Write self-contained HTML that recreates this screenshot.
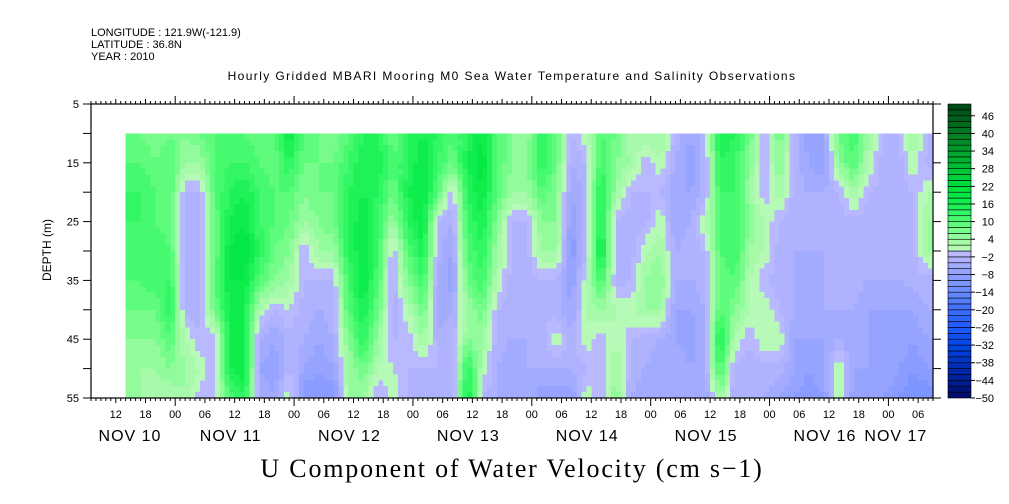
<!DOCTYPE html>
<html><head><meta charset="utf-8">
<style>
html,body{margin:0;padding:0;background:#fff;}
svg{display:block;font-family:"Liberation Sans",sans-serif;}
</style></head>
<body>
<svg id="chart" width="1009" height="504" viewBox="0 0 1009 504" xmlns="http://www.w3.org/2000/svg">
<rect x="0" y="0" width="1009" height="504" fill="#fff"/>
<g font-size="11" fill="#000">
<text x="91" y="36">LONGITUDE : 121.9W(-121.9)</text>
<text x="91" y="48">LATITUDE : 36.8N</text>
<text x="91" y="60">YEAR : 2010</text>
</g>
<text x="512" y="80" text-anchor="middle" font-size="12" letter-spacing="1.4">Hourly Gridded MBARI Mooring M0 Sea Water Temperature and Salinity Observations</text>
<g id="heat" shape-rendering="crispEdges"></g>
<g id="axes"></g>
<g id="cbar"></g>
<text transform="translate(51,250) rotate(-90)" text-anchor="middle" font-size="12">DEPTH (m)</text>
<text x="512" y="477" text-anchor="middle" font-size="26" letter-spacing="1.8" font-family="'Liberation Serif',serif">U Component of Water Velocity (cm s−1)</text>
</svg>
<script>
// hours relative to Nov 11 00:00
const times = [];
for (let t=-10;t<=152;t+=3) times.push(t);
const depths = [10,15,20,25,30,35,40,45,50,55];
const values = [
[10,10,12,12,10,10,8,6,6,4],
[8,10,12,12,10,10,8,6,4,4],
[6,8,10,10,12,12,8,6,4,2],
[8,10,10,8,10,12,14,10,6,2],
[6,4,-2,-3,-3,-3,-3,2,4,4],
[8,4,-2,-3,-4,-4,-3,-2,2,-2],
[10,10,10,8,8,10,8,-2,-2,-2],
[12,12,14,16,18,18,16,16,16,10],
[10,12,16,18,20,18,16,16,18,14],
[8,10,12,12,14,10,2,-4,-6,-4],
[10,8,10,10,8,6,-2,-6,-8,-6],
[18,14,10,8,6,4,0,-3,-2,2],
[10,8,6,4,-2,-2,-3,-4,-6,-10],
[8,8,8,6,4,-2,-4,-6,-8,-10],
[6,8,8,8,4,-2,-3,-4,-6,-10],
[10,12,14,14,14,12,10,6,4,4],
[14,16,16,18,18,18,16,14,8,4],
[14,16,14,12,12,10,8,4,2,-3],
[8,10,8,4,-2,-3,-4,-2,0,2],
[14,14,16,14,10,6,2,-2,-2,-2],
[16,18,18,18,16,12,8,4,-2,-4],
[14,12,10,-2,-3,-4,-6,-3,-2,-4],
[10,8,-2,-4,-6,-8,-4,-3,-4,-4],
[14,16,14,12,10,8,4,6,14,18],
[18,20,18,16,14,12,8,4,2,-2],
[10,10,10,6,4,2,-2,-3,-4,-4],
[6,6,4,-2,-2,-3,-4,-4,-6,-6],
[4,6,4,-2,-3,-3,-4,-4,-4,-4],
[14,14,10,6,4,-2,-3,-4,-4,-8],
[8,8,6,6,4,-2,-3,2,-4,-8],
[-2,-4,-6,-8,-10,-8,-6,-4,-4,-8],
[2,-2,-3,-3,-2,2,2,2,-2,2],
[10,12,16,16,18,12,4,-2,-2,-2],
[8,6,4,-2,-2,-3,2,2,4,6],
[2,4,-2,-3,-3,-2,2,-2,-3,-4],
[4,-2,-2,-3,2,4,4,-3,-4,-6],
[4,2,-2,2,4,6,4,-4,-6,-6],
[-2,-4,-6,-6,-4,-4,-6,-6,-4,-6],
[-6,-8,-6,-4,-3,-4,-6,-8,-6,-6],
[-2,-3,-3,2,-2,-3,-4,-4,-4,-6],
[16,14,12,10,10,8,10,16,12,4],
[14,12,12,12,12,10,6,2,-3,-4],
[8,6,4,6,4,2,2,-2,-3,-4],
[-2,-2,-2,2,2,-2,2,2,-3,-4],
[8,6,4,-2,-3,-3,-2,2,-3,-6],
[-2,-3,-3,-3,-4,-4,-4,-6,-6,-8],
[-8,-6,-4,-4,-4,-6,-6,-6,-8,-10],
[-6,-8,-4,-3,-4,-4,-4,-6,-6,-8],
[8,6,-2,-3,-4,-4,-4,-4,2,2],
[12,10,4,-3,-3,-3,-4,-6,-6,-8],
[4,2,-2,-3,-3,-4,-6,-6,-6,-8],
[-2,-3,-3,-3,-3,-4,-6,-8,-6,-8],
[-2,-3,-4,-3,-3,-4,-6,-6,-8,-10],
[4,2,-2,-3,-3,-3,-6,-8,-10,-12],
[-2,-3,2,4,4,-3,-4,-6,-8,-12]
];
const cbarLabels = [46,40,34,28,22,16,10,4,-2,-8,-14,-20,-26,-32,-38,-44,-50];
const hourLabels = ["12","18","00","06","12","18","00","06","12","18","00","06","12","18","00","06","12","18","00","06","12","18","00","06","12","18","00","06","12","18","00","06"];
const dayLabels = ["NOV 10","NOV 11","NOV 12","NOV 13","NOV 14","NOV 15","NOV 16","NOV 17"];
const depthTicks = [5,15,25,35,45,55];

const NS="http://www.w3.org/2000/svg";
const X0=91,X1=933,Y0=104,Y1=398,T0=-17,T1=153,D0=5,D1=55;
const xs = t => X0+(t-T0)/(T1-T0)*(X1-X0);
const ys = d => Y0+(d-D0)/(D1-D0)*(Y1-Y0);
function el(tag,attrs,parent){const e=document.createElementNS(NS,tag);for(const k in attrs)e.setAttribute(k,attrs[k]);parent.appendChild(e);return e;}

const stops=[[-50,[0,10,100]],[-44,[0,30,150]],[-38,[0,50,190]],[-32,[0,70,230]],[-26,[30,90,255]],[-20,[60,110,255]],[-14,[105,138,255]],[-8,[145,160,255]],[-2,[180,182,255]],[0,[188,188,255]],
[0.01,[190,250,190]],[4,[160,250,165]],[8,[105,252,130]],[12,[60,248,105]],[16,[20,240,80]],[20,[0,228,65]],[26,[0,205,55]],[34,[0,160,45]],[42,[0,110,30]],[50,[0,70,20]]];
function color(v){
  let c=Math.floor(v/2)*2+1; c=Math.max(-49,Math.min(49,c));
  for(let i=0;i<stops.length-1;i++){const a=stops[i],b=stops[i+1];
    if(c>=a[0]&&c<=b[0]){const f=(c-a[0])/(b[0]-a[0]);return "rgb("+a[1].map((x,j)=>Math.round(x+(b[1][j]-x)*f)).join(",")+")";}}
  return c<0?"rgb(0,10,100)":"rgb(0,70,20)";
}
function sample(t,d){
  let fi=(t-times[0])/3; fi=Math.max(0,Math.min(times.length-1,fi));
  let fj=(d-depths[0])/5; fj=Math.max(0,Math.min(depths.length-1,fj));
  const i0=Math.floor(fi),i1=Math.min(times.length-1,i0+1),j0=Math.floor(fj),j1=Math.min(depths.length-1,j0+1);
  const a=fi-i0,b=fj-j0;
  return values[i0][j0]*(1-a)*(1-b)+values[i1][j0]*a*(1-b)+values[i0][j1]*(1-a)*b+values[i1][j1]*a*b;
}
const heat=document.getElementById('heat');
const tStart=times[0],tEnd=times[times.length-1]+1;
for(let t=tStart;t<tEnd;t+=1){
  for(let d=10;d<55;d+=1){
    const v=sample(t+0.5,d+0.5);
    const r=el('rect',{x:xs(t).toFixed(2),y:ys(d).toFixed(2),width:(xs(t+1)-xs(t)+0.6).toFixed(2),height:(ys(d+1)-ys(d)+0.6).toFixed(2),fill:color(v)},heat);
    
    
  }
}
const axes=document.getElementById('axes');
el('rect',{x:X0,y:Y0,width:X1-X0,height:Y1-Y0,fill:'none',stroke:'#000','stroke-width':1.2},axes);
for(let h=T0;h<=T1;h++){
  const x=xs(h); const hr=((h%24)+24)%24; const len=hr===0?8:(hr%6===0?5:3);
  el('line',{x1:x,y1:Y1,x2:x,y2:Y1+len,stroke:'#000','stroke-width':1},axes);
  el('line',{x1:x,y1:Y0,x2:x,y2:Y0-len,stroke:'#000','stroke-width':1},axes);
}
const xl=el('g',{'font-size':11,'text-anchor':'middle'},axes);


hourLabels.forEach((s,i)=>{const h=-12+6*i; if(h<T0||h>T1)return;
  const tx=el('text',{x:xs(h),y:418},xl); tx.textContent=s;
  
  });
dayLabels.forEach((s,i)=>{let h=-12+24*i; let cx=xs(h)-4; if(i===0) cx=130; if(h>T1) cx=xs(145.5);
  const tx=el('text',{x:cx,y:441,'font-size':16,'letter-spacing':1},xl); tx.textContent=s;
  
  });
for(let d=D0;d<=D1;d+=5){const y=ys(d);
  el('line',{x1:X0-8,y1:y,x2:X0,y2:y,stroke:'#000'},axes);
  el('line',{x1:X1,y1:y,x2:X1+8,y2:y,stroke:'#000'},axes);}
depthTicks.forEach(d=>{const tx=el('text',{x:X0-12,y:ys(d)+4,'font-size':11,'text-anchor':'end'},axes);tx.textContent=d;
  
  });
const cb=document.getElementById('cbar');
const CX=948,CW=23,cy=v=>Y1-(v+50)/100*(Y1-Y0);
for(let v=-50;v<50;v+=2){
  const r=el('rect',{x:CX,y:cy(v+2),width:CW,height:cy(v)-cy(v+2),fill:color(v+1),stroke:'#000','stroke-width':0.6},cb);
  
  
}
cbarLabels.forEach(v=>{const y=cy(v);
  el('line',{x1:CX+CW,y1:y,x2:CX+CW+4,y2:y,stroke:'#000'},cb);
  const tx=el('text',{x:994,y:y+4,'font-size':11,'text-anchor':'end'},cb);tx.textContent=v<0?'−'+(-v):v;
  
  });
</script>
</body></html>
